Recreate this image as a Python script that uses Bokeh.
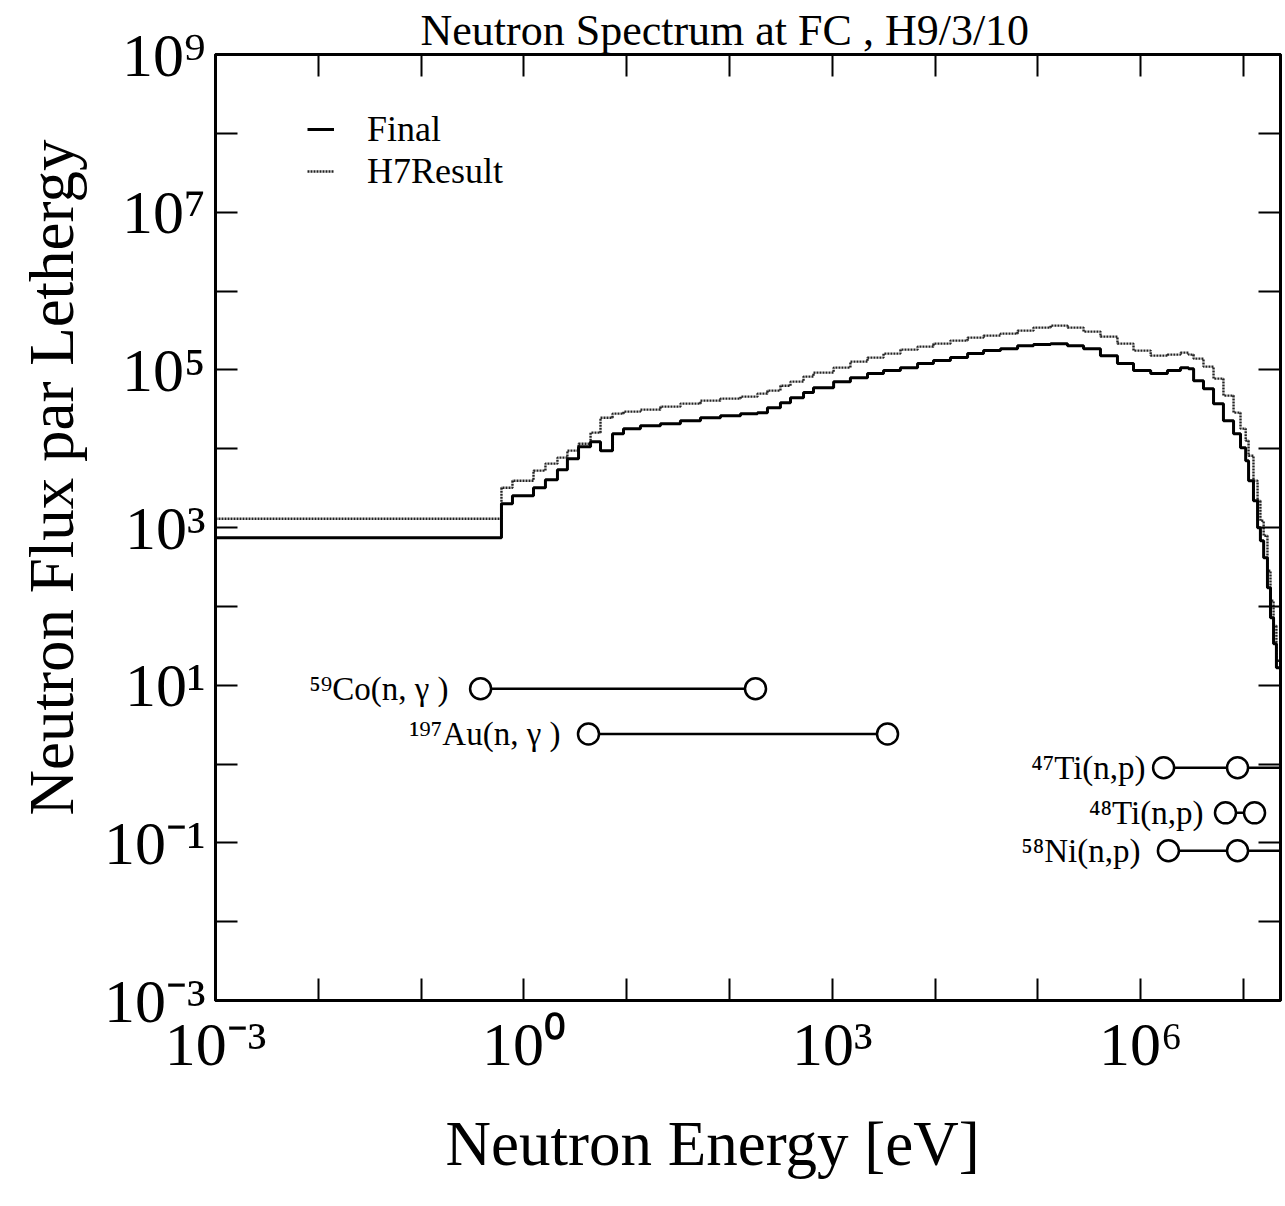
from bokeh.plotting import figure
from bokeh.models import (ColumnDataSource, FixedTicker, LogAxis, CustomJSTickFormatter,
                          Legend, LegendItem, Title)
from bokeh.core.properties import value
from bokeh.embed import file_html
from bokeh.resources import INLINE

# ---------------- data ----------------
energy_ev = [1e-3, 0.605, 0.774, 1.24, 1.62, 2.12, 2.65, 3.40, 4.45, 5.56,
             7.28, 9.31, 13.6, 21.3, 33.3, 52.2, 81.7, 128, 187, 234,
             313, 392, 525, 656, 1.03e3, 1.50e3, 2.20e3, 3.15e3, 4.60e3, 6.75e3,
             9.64e3, 1.41e4, 2.07e4, 2.96e4, 4.33e4, 6.34e4, 9.06e4, 1.33e5, 1.94e5, 2.78e5,
             4.06e5, 5.94e5, 8.51e5, 1.25e6, 1.82e6, 2.44e6, 2.92e6, 3.27e6, 4.08e6, 5.11e6,
             6.38e6, 8.00e6, 9.35e6, 1.05e7, 1.12e7, 1.25e7, 1.37e7, 1.46e7, 1.57e7, 1.71e7,
             1.83e7, 1.96e7, 2.09e7]
energy_end = 2.3e7

flux_final = [743, 2004, 2535, 3199, 4045, 5420, 7464, 10593, 12274, 9441,
              15488, 17947, 19588, 20767, 22646, 24717, 26242, 27797, 28642, 33113,
              38371, 44361, 51405, 59429, 70795, 79616, 89536, 97724, 106660, 119950,
              130918, 142889, 160694, 175388, 185780, 202768, 208930, 214783, 202768, 185780,
              151356, 119950, 97724, 89536, 97724, 106660, 103514, 72946, 57677, 37239,
              22646, 15488, 10304, 7047, 3926, 2188, 993, 679, 414, 172,
              71.6, 33.5, 16.6]

flux_h7 = [1294, 3199, 3926, 5260, 6457, 7691, 9441, 11562, 15959, 24717,
           27797, 29512, 31260, 34117, 37239, 40644, 43139, 45709, 49888, 54450,
           62952, 70795, 82035, 92045, 106660, 126963, 142889, 160694, 180302, 196789,
           214783, 234963, 256448, 271644, 287740, 314051, 343558, 363915, 343558, 305492,
           263633, 214783, 175388, 151356, 155955, 165196, 155955, 138676, 109901, 77268,
           47098, 28642, 17947, 12647, 8147, 3926, 2188, 1219, 787, 283,
           118, 56.7, 20.4]

reactions = ["\u2075\u2079Co(n, \u03b3 )", "\u00b9\u2079\u2077Au(n, \u03b3 )",
             "\u2074\u2077Ti(n,p)", "\u2074\u2078Ti(n,p)", "\u2075\u2078Ni(n,p)"]
react_e_low = [0.379, 4.25, 1.67e6, 6.68e6, 1.86e6]
react_e_high = [179, 3444, 8.75e6, 1.28e7, 8.75e6]
react_line_end = [179, 3444, 3e7, 1.28e7, 3e7]
react_y = [9.0, 2.4, 0.895, 0.240, 0.0794]

x_decades = list(range(-3, 8))
y_decades = list(range(-3, 10))

title_text = "Neutron Spectrum at FC , H9/3/10"
x_title = "Neutron Energy [eV]"
y_title = "Neutron Flux par Lethergy"

# ---------------- figure ----------------
FONT = "Liberation Serif"
CSS_FONT = "'Liberation Serif', 'Times New Roman', serif"
p = figure(width=1285, height=1206, x_axis_type="log", y_axis_type="log",
           x_range=(1e-3, 2.29e7), y_range=(1e-3, 1e9),
           min_border_left=215, min_border_right=5, min_border_top=54, min_border_bottom=206,
           output_backend="svg", toolbar_location=None)
p.grid.visible = False
p.background_fill_color = "white"
p.border_fill_color = "white"
p.outline_line_color = "black"
p.outline_line_width = 3

p.title.text = title_text
p.title.align = "left"
p.title.offset = 205
p.title.standoff = 0
p.title.text_font = CSS_FONT
p.title.text_font_size = "44px"
p.title.text_font_style = "normal"
p.title.text_color = "black"

xt = FixedTicker(ticks=[10.0 ** k for k in x_decades], minor_ticks=[])
yt = FixedTicker(ticks=[10.0 ** k for k in y_decades], minor_ticks=[])

SUP = """
const sup = {"0":"\u2070","1":"\u00b9","2":"\u00b2","3":"\u00b3","4":"\u2074","5":"\u2075",
             "6":"\u2076","7":"\u2077","8":"\u2078","9":"\u2079","-":"\u207b"};
const e = Math.round(Math.log10(tick));
"""
x_fmt = CustomJSTickFormatter(code=SUP + """
if (e % 3 !== 0) return "";
return "10" + String(e).split("").map(c => sup[c]).join("");
""")
y_fmt = CustomJSTickFormatter(code=SUP + """
if (Math.abs(e) % 2 !== 1) return "";
return "10" + String(e).split("").map(c => sup[c]).join("");
""")
blank = CustomJSTickFormatter(code="return '';")

for ax, tk, fm in ((p.xaxis[0], xt, x_fmt), (p.yaxis[0], yt, y_fmt)):
    ax.ticker = tk
    ax.formatter = fm
    ax.major_tick_in = 22
    ax.major_tick_out = 0
    ax.minor_tick_in = 0
    ax.minor_tick_out = 0
    ax.axis_line_width = 3
    ax.major_tick_line_width = 2
    ax.major_label_text_font = FONT
    ax.major_label_text_font_size = "62px"
    ax.major_label_text_color = "black"
p.xaxis[0].major_label_standoff = 9
p.yaxis[0].major_label_standoff = 10

top_ax = LogAxis(ticker=xt, formatter=blank)
right_ax = LogAxis(ticker=yt, formatter=blank)
for ax in (top_ax, right_ax):
    ax.major_tick_in = 22
    ax.major_tick_out = 0
    ax.minor_tick_in = 0
    ax.minor_tick_out = 0
    ax.axis_line_width = 3
    ax.major_tick_line_width = 2
    ax.major_label_text_font_size = "1px"
    ax.major_label_standoff = 0
p.add_layout(top_ax, "above")
p.add_layout(right_ax, "right")

# axis titles as side-panel titles (allow shifting along the axis)
p.add_layout(Title(text=y_title, align="left", offset=185, standoff=27,
                   text_font=CSS_FONT, text_font_size="63px", text_font_style="normal",
                   text_color="black"), "left")
p.add_layout(Title(text=x_title, align="left", offset=230, standoff=53,
                   text_font=CSS_FONT, text_font_size="63px", text_font_style="normal",
                   text_color="black"), "below")

# ---------------- spectra ----------------
src = ColumnDataSource(dict(
    e=energy_ev + [energy_end],
    final=flux_final + [flux_final[-1]],
    h7=flux_h7 + [flux_h7[-1]],
))
r_h7 = p.step(x="e", y="h7", source=src, mode="after", line_color="#222222",
              line_width=2.4, line_dash="2 1")
r_final = p.step(x="e", y="final", source=src, mode="after", line_color="black",
                 line_width=3)

# ---------------- reaction response ranges ----------------
rsrc = ColumnDataSource(dict(lo=react_e_low, hi=react_e_high, end=react_line_end,
                             y=react_y, name=reactions,
                             dx=[-32, -28, -18, -22, -28]))
p.segment(x0="lo", y0="y", x1="end", y1="y", source=rsrc, line_color="black", line_width=2.5)
for col in ("lo", "hi"):
    p.scatter(x=col, y="y", source=rsrc, size=21, marker="circle",
              fill_color="white", line_color="black", line_width=2.5)
p.text(x="lo", y="y", text="name", source=rsrc, x_offset="dx",
       text_align="right", text_baseline="middle",
       text_font=value(FONT), text_font_size="33px", text_color="black")

# ---------------- legend ----------------
legend = Legend(items=[LegendItem(label="Final", renderers=[r_final]),
                       LegendItem(label="H7Result", renderers=[r_h7])],
                location=(92, 808), orientation="vertical",
                glyph_width=27, glyph_height=40, label_height=40, label_standoff=33,
                padding=0, spacing=0, margin=0,
                label_text_font=CSS_FONT, label_text_font_size="36px",
                label_text_color="black",
                border_line_alpha=0, background_fill_alpha=0)
p.add_layout(legend)

open("out.html", "w").write(file_html(p, INLINE))
